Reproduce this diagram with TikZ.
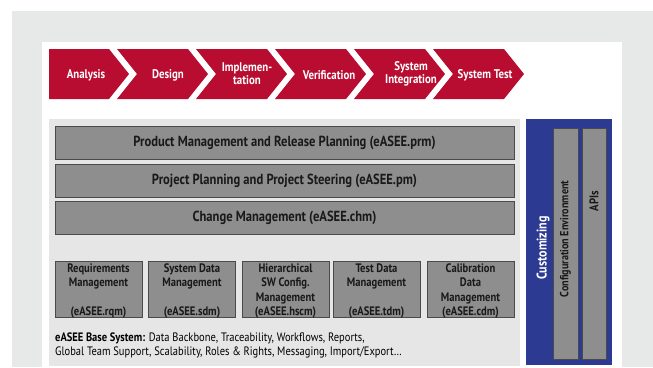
\documentclass[tikz,border=0pt]{standalone}
\usepackage{fontspec}
\setmainfont{PT Sans}
\newfontfamily\cnd[FakeStretch=0.86, BoldFont={PT Sans Bold}]{PT Sans}
\definecolor{outergray}{HTML}{E7E8E8}
\definecolor{panelgray}{HTML}{E6E6E6}
\definecolor{chevred}{HTML}{B80D31}
\definecolor{boxgray}{HTML}{8E8E8E}
\definecolor{boxedge}{HTML}{4A4A4A}
\definecolor{custblue}{HTML}{2D3A92}
\tikzset{
  chev/.style={fill=chevred},
  chevtext/.style={text=white, font=\cnd\bfseries\fontsize{12.6}{13}\selectfont, align=center, inner sep=0pt},
  bar/.style={draw=boxedge, line width=0.9pt, fill=boxgray, minimum width=459pt, minimum height=33pt, inner sep=0pt, font=\cnd\bfseries\fontsize{14.6}{15}\selectfont, text=black!90},
  modbox/.style={draw=boxedge, line width=0.9pt, fill=boxgray, minimum width=87pt, minimum height=56pt, inner sep=0pt},
  modtext/.style={inner sep=0pt, align=center, font=\cnd\bfseries\fontsize{12.3}{14.3}\selectfont, text=black!90},
  vbar/.style={draw=boxedge, line width=0.9pt, fill=boxgray},
  vtext/.style={rotate=90, inner sep=0pt}
}
\begin{document}
\begin{tikzpicture}[x=1pt,y=-1pt]
\useasboundingbox (0,0) rectangle (653,367);
\fill[outergray] (12,11) rectangle (653,367);
\fill[white] (42,42) rectangle (622,367);
% chevrons
\fill[chev] (49,49) -- (109,49) -- (129,74) -- (109,99) -- (49,99) -- cycle;
\foreach \i in {1,...,5}{
  \pgfmathsetmacro{\b}{109+79*\i}
  \pgfmathsetmacro{\a}{109+79*(\i-1)+8}
  \fill[chev] (\a,49) -- (\b,49) -- (\b+20,74) -- (\b,99) -- (\a,99) -- (\a+20,74) -- cycle;
}
\node[chevtext] (c1) at (86,75) {Analysis};
\node[chevtext] (c2) at (168,75) {Design};
\node[chevtext] (c3) at (247,74) {Implemen-\\tation};
\node[chevtext] (c4) at (329,75) {Verification};
\node[chevtext] (c5) at (411,74) {System\\Integration};
\node[chevtext] (c6) at (485,75) {System Test};
% main panel
\fill[panelgray] (49,119) rectangle (520,366);
\node[bar] (prm) at (284.5,142.5) {Product Management and Release Planning (eASEE.prm)};
\node[bar] (pm) at (284.5,180.5) {Project Planning and Project Steering (eASEE.pm)};
\node[bar] (chm) at (284.5,217.5) {Change Management (eASEE.chm)};
\node[modbox] (rqm) at (98.5,289) {};
\node[modbox] (sdm) at (192,289) {};
\node[modbox] (hscm) at (285.5,289) {};
\node[modbox] (tdm) at (376.5,289) {};
\node[modbox] (cdm) at (470.5,289) {};
\node[modtext] (rqmt) at (98.5,291) {Requirements\\Management\\ \\(eASEE.rqm)};
\node[modtext] (sdmt) at (192,291) {System Data\\Management\\ \\(eASEE.sdm)};
\node[modtext] (hscmt) at (285.5,291) {Hierarchical\\SW Config.\\Management\\(eASEE.hscm)};
\node[modtext] (tdmt) at (376.5,291) {Test Data\\Management\\ \\(eASEE.tdm)};
\node[modtext] (cdmt) at (470.5,291) {Calibration\\Data\\Management\\(eASEE.cdm)};
\node[anchor=north west, align=left, inner sep=0pt, font=\cnd\fontsize{12.2}{14}\selectfont, text=black] (base) at (55,333)
  {\textbf{eASEE Base System:} Data Backbone, Traceability, Workflows, Reports,\\Global Team Support, Scalability, Roles \& Rights, Messaging, Import/Export\dots};
% customizing
\fill[custblue] (526,119) rectangle (612,365);
\draw[vbar] (553,128) rectangle (578,359);
\draw[vbar] (582,128) rectangle (606,359);
\node[vtext, text=white, font=\cnd\bfseries\fontsize{14}{15}\selectfont] (cust) at (543,248) {Customizing};
\node[vtext, text=black!90, font=\cnd\bfseries\fontsize{11.8}{13}\selectfont] (conf) at (565.5,239) {Configuration Environment};
\node[vtext, text=black!90, font=\cnd\bfseries\fontsize{12.5}{13}\selectfont] (apis) at (594,201) {APIs};
\end{tikzpicture}
\end{document}
